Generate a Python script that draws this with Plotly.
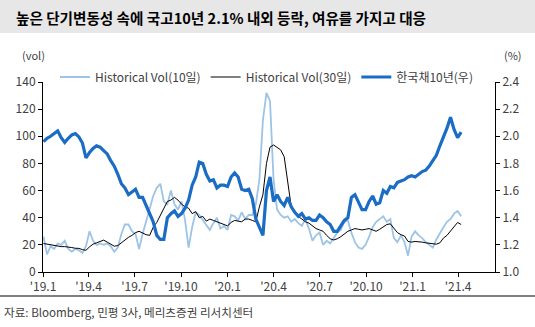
import pandas as pd
import plotly.graph_objects as go

# ---- data (weekly readings) ----
dates = pd.date_range("2019-01-02", periods=119, freq="7D")

vol10 = [26, 13, 19, 17, 21, 20, 23, 17, 15, 17,
         16, 14, 19, 30, 23, 20, 21, 20, 21, 19,
         15, 18, 28, 35, 35, 30, 28, 17, 28, 37,
         46, 56, 62, 65, 52, 50, 60, 50, 46, 52,
         38, 18, 33, 44, 42, 38, 35, 31, 36, 40,
         32, 34, 31, 42, 41, 38, 44, 39, 42, 42,
         50, 68, 112, 132, 126, 68, 46, 42, 40, 41,
         37, 39, 36, 34, 39, 32, 23, 27, 29, 20,
         23, 21, 25, 29, 31, 37, 38, 29, 22, 18,
         17, 20, 26, 33, 37, 39, 41, 37, 39, 25,
         22, 27, 22, 12, 26, 30, 27, 25, 22, 20,
         18, 24, 29, 33, 37, 39, 43, 45, 41]

vol30 = [21, 20.5, 20, 19.5, 19, 18.7, 18.7, 18.5, 18, 17.5,
         17.4, 16.5, 16, 18.5, 20.5, 21.5, 22.4, 23.5, 22, 20.5,
         19, 19.5, 21.5, 24, 25.5, 27, 29, 30, 28.5, 27.5,
         27, 33, 36.5, 42, 47, 52, 53, 55, 53, 50,
         48, 47, 43, 44.5, 40, 41, 37.5, 39, 38, 37,
         36, 34.5, 34, 36.5, 38, 37.5, 37, 39, 39, 38,
         37, 48, 57, 80, 92, 93.6, 92, 90, 85, 65,
         48, 44, 41, 39, 37, 36, 34, 32, 31, 30,
         27, 24.5, 23.6, 24.5, 26, 28, 30, 31, 32, 31.5,
         31, 31.5, 32, 31, 30, 31.5, 33, 35, 35.5, 32,
         29, 27.5, 26.5, 22.5, 22, 22.5, 22.5, 22, 21.5, 21,
         20.5, 20.5, 21.5, 25, 27, 30, 33, 36.5, 35]

ktb10 = [1.96, 1.985, 2.00, 2.02, 2.04, 1.99, 1.955, 1.985, 2.01, 2.02,
         1.995, 1.95, 1.84, 1.88, 1.91, 1.93, 1.92, 1.895, 1.87, 1.82,
         1.78, 1.72, 1.65, 1.62, 1.57, 1.59, 1.61, 1.55, 1.55, 1.49,
         1.425, 1.37, 1.27, 1.24, 1.24, 1.40, 1.43, 1.45, 1.41, 1.43,
         1.47, 1.53, 1.64, 1.70, 1.81, 1.80, 1.72, 1.67, 1.68, 1.62,
         1.64, 1.64, 1.63, 1.70, 1.73, 1.70, 1.61, 1.60, 1.61, 1.54,
         1.39, 1.33, 1.27, 1.60, 1.70, 1.52, 1.57, 1.52, 1.49, 1.55,
         1.48, 1.44, 1.41, 1.43, 1.39, 1.40, 1.38, 1.38, 1.42, 1.40,
         1.37, 1.35, 1.30, 1.30, 1.34, 1.38, 1.40, 1.55, 1.57, 1.52,
         1.46, 1.46, 1.52, 1.56, 1.50, 1.51, 1.60, 1.58, 1.63, 1.62,
         1.66, 1.67, 1.68, 1.70, 1.71, 1.70, 1.72, 1.74, 1.75, 1.78,
         1.82, 1.86, 1.93, 1.99, 2.06, 2.14, 2.05, 1.99, 2.03]

tick_dates = ["2019-01-01", "2019-04-01", "2019-07-01", "2019-10-01", "2020-01-01",
              "2020-04-01", "2020-07-01", "2020-10-01", "2021-01-01", "2021-04-01"]
tick_labels = ["'19.1", "'19.4", "'19.7", "'19.10", "'20.1",
               "'20.4", "'20.7", "'20.10", "'21.1", "'21.4"]

title_text = "높은 단기변동성 속에 국고10년 2.1% 내외 등락, 여유를 가지고 대응"
source_text = "자료: Bloomberg, 민평 3사, 메리츠증권 리서치센터"

FONT = "Noto Sans CJK KR"
TXT = "#404040"

fig = go.Figure()
fig.add_trace(go.Scatter(x=dates, y=vol10, mode="lines", name="Historical Vol(10일)",
                         line=dict(color="#9dc3e6", width=1.8)))
fig.add_trace(go.Scatter(x=dates, y=vol30, mode="lines", name="Historical Vol(30일)",
                         line=dict(color="#000000", width=1)))
fig.add_trace(go.Scatter(x=dates, y=ktb10, mode="lines", name="한국채10년(우)",
                         line=dict(color="#1a6cc4", width=3.2), yaxis="y2"))

L, R, T, B = 43, 40, 82, 55
W, H = 535, 327
pw, ph = W - L - R, H - T - B

def px(x):
    return (x - L) / pw

def py(y):
    return (H - B - y) / ph

fig.update_layout(
    width=W, height=H,
    margin=dict(l=L, r=R, t=T, b=B, pad=0),
    paper_bgcolor="white", plot_bgcolor="white",
    font=dict(family=FONT, size=12, color=TXT),
    showlegend=True,
    legend=dict(orientation="h", x=px(55), y=py(77), xanchor="left", yanchor="middle",
                font=dict(size=12, color=TXT), bgcolor="rgba(0,0,0,0)",
                traceorder="normal", itemwidth=30),
    xaxis=dict(type="date", range=["2019-01-01", "2021-06-13"],
               tickvals=tick_dates, ticktext=tick_labels,
               showgrid=False, zeroline=False, showline=True, linecolor="#000", linewidth=1,
               ticks="outside", ticklen=4, tickcolor="#000",
               tickfont=dict(size=12, color=TXT)),
    yaxis=dict(range=[0, 140], dtick=20, showgrid=False, zeroline=False,
               showline=True, linecolor="#000", linewidth=1,
               ticks="outside", ticklen=4, tickcolor="#000",
               tickfont=dict(size=12, color=TXT)),
    yaxis2=dict(range=[1.0, 2.4], dtick=0.2, tickformat=".1f", overlaying="y", side="right",
                showgrid=False, zeroline=False, showline=True, linecolor="#000", linewidth=1,
                ticks="outside", ticklen=4, tickcolor="#000",
                tickfont=dict(size=12, color=TXT)),
    shapes=[
        dict(type="rect", xref="paper", yref="paper", x0=px(0), x1=px(W), y0=py(33), y1=py(0),
             fillcolor="#e7e7e7", line=dict(width=0), layer="below"),
        dict(type="line", xref="paper", yref="paper", x0=px(0), x1=px(W), y0=py(296), y1=py(296),
             line=dict(color="#000", width=1.2)),
    ],
    annotations=[
        dict(text="<b>" + title_text + "</b>", xref="paper", yref="paper", x=px(14), y=py(17),
             xanchor="left", yanchor="middle", showarrow=False,
             font=dict(family=FONT, size=14.6, color="#000")),
        dict(text="(vol)", xref="paper", yref="paper", x=px(33), y=py(55),
             xanchor="center", yanchor="middle", showarrow=False, font=dict(size=11, color=TXT)),
        dict(text="(%)", xref="paper", yref="paper", x=px(513), y=py(55),
             xanchor="center", yanchor="middle", showarrow=False, font=dict(size=11, color=TXT)),
        dict(text=source_text, xref="paper", yref="paper", x=px(2), y=py(312),
             xanchor="left", yanchor="middle", showarrow=False,
             font=dict(size=11.6, color=TXT)),
    ],
)

fig.write_html("out.html")
